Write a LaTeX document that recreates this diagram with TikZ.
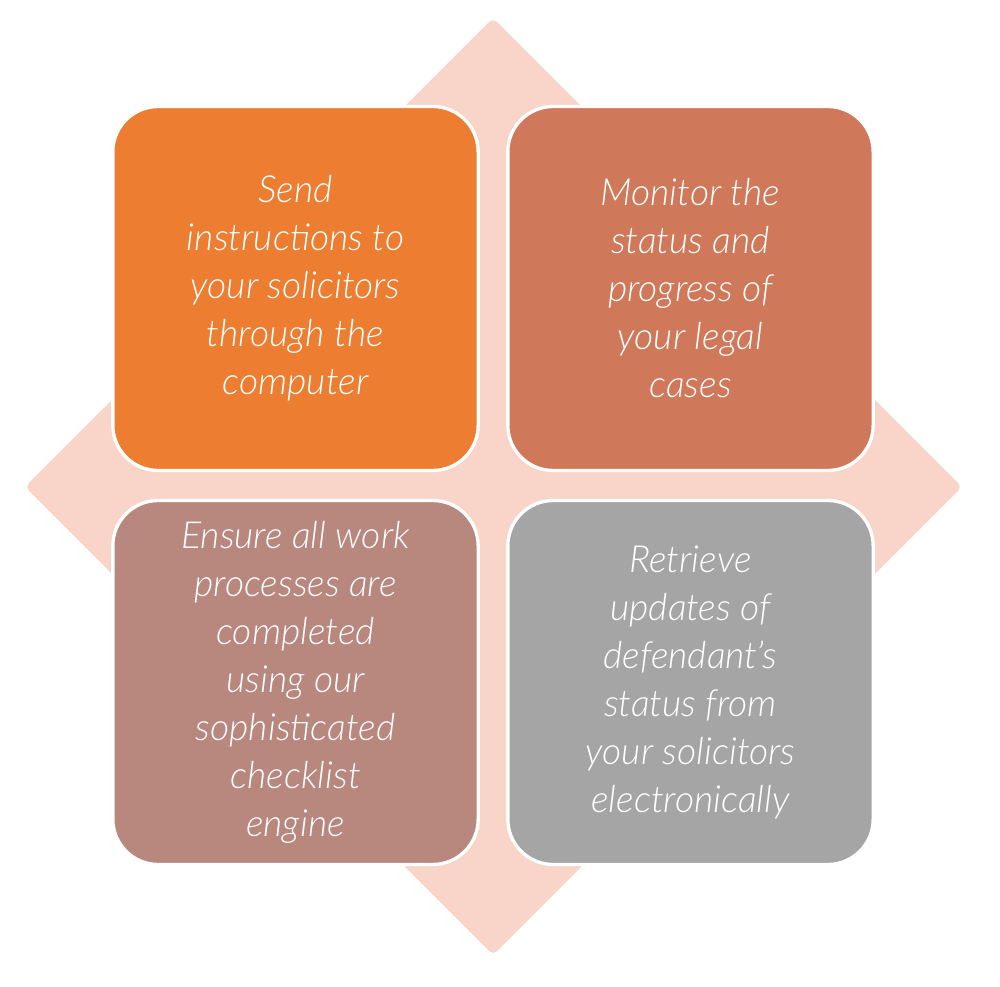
\documentclass[tikz,border=0pt]{standalone}
\usepackage{fontspec}
\setmainfont{Lato Light}[ItalicFont={Lato Light Italic}]
\begin{document}
\begin{tikzpicture}[x=0.75pt,y=-0.75pt]
\definecolor{dia}{HTML}{F8D5C8}
\definecolor{cA}{HTML}{ED7D31}
\definecolor{cB}{HTML}{D0785A}
\definecolor{cC}{HTML}{B8877E}
\definecolor{cD}{HTML}{A5A5A5}
\tikzset{card/.style={draw=white,line width=2.5pt,rounded corners=34pt,minimum width=274pt,minimum height=273pt,inner sep=0pt},
 lbl/.style={text=white,align=center,font=\fontsize{28}{36}\selectfont\itshape}}
\useasboundingbox (0,0) rectangle (1000,987);
\fill[dia,rounded corners=4pt] (493,18) -- (962,487) -- (493,955) -- (25,487) -- cycle;
\node[card,fill=cA] (a) at (295.5,288.5) {};
\node[card,fill=cB] (b) at (690.5,288.5) {};
\node[card,fill=cC] (c) at (295.5,682.5) {};
\node[card,fill=cD] (d) at (690.5,682.5) {};
\node[lbl] (ta) at (a.center) {Send\\instructions to\\your solicitors\\through the\\computer};
\node[lbl] (tb) at (b.center) {Monitor the\\status and\\progress of\\your legal\\cases};
\node[lbl] (tc) at (c.center) {Ensure all work\\processes are\\completed\\using our\\sophisticated\\checklist\\engine};
\node[lbl] (td) at (d.center) {Retrieve\\updates of\\defendant's\\status from\\your solicitors\\electronically};
\end{tikzpicture}
\end{document}
